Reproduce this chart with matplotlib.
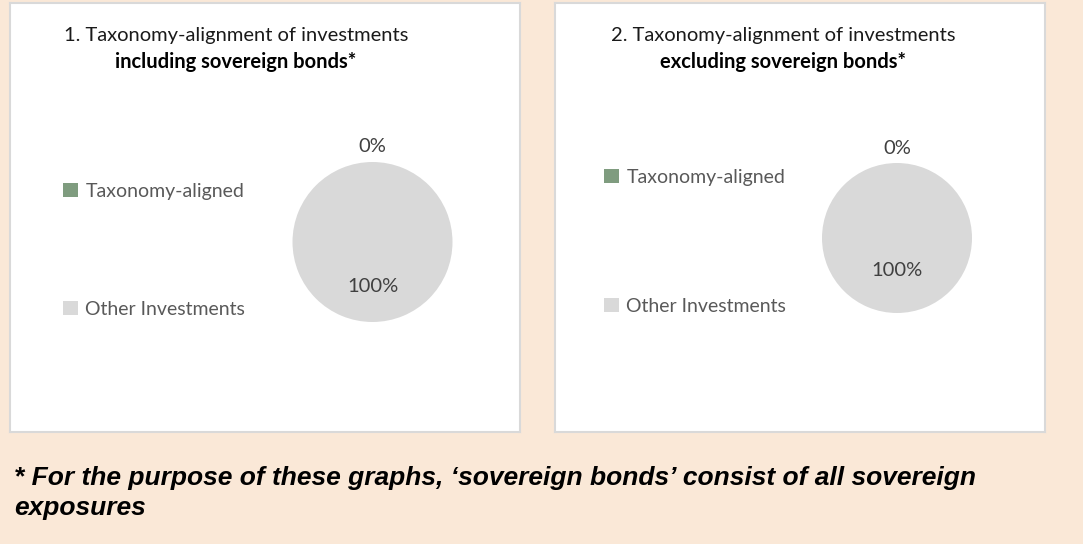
import matplotlib
matplotlib.use('Agg')
import matplotlib.pyplot as plt

# data
categories = ['Taxonomy-aligned', 'Other Investments']
incl_sov = [0, 100]
excl_sov = [0, 100]
titles = ['1. Taxonomy-alignment of investments', '2. Taxonomy-alignment of investments']
subtitles = ['including sovereign bonds*', 'excluding sovereign bonds*']
footnote = ('* For the purpose of these graphs, \u2018sovereign bonds\u2019 consist of all sovereign\n'
            'exposures')

colors = ['#7F9C7F', '#D9D9D9']
W, H = 1083, 544

fig = plt.figure(figsize=(W / 100, H / 100), dpi=100)
fig.patch.set_facecolor('#FAE8D7')


def px(x, y, w, h):
    # pixel box (top-left origin) -> figure fraction
    return [x / W, 1 - (y + h) / H, w / W, h / H]


def panel(x0, x1, y0, y1, title, sub, tx, vals, cx, cy, r, lab_in, leg_x, leg_y, leg_sp):
    # white card with grey edge, as a background axes
    card = fig.add_axes(px(x0, y0, x1 - x0, y1 - y0), zorder=-1)
    card.set_xticks([])
    card.set_yticks([])
    card.set_facecolor('white')
    for s in card.spines.values():
        s.set_color('#D9D9D9')
        s.set_linewidth(1.5)

    fig.text(tx / W, 1 - 35 / H, title, ha='center', va='center', fontsize=14.5,
             family='Lato', color='#1a1a1a')
    fig.text(tx / W, 1 - 62 / H, sub, ha='center', va='center', fontsize=14.5,
             family='Lato', fontweight='bold', color='#000000')

    ax = fig.add_axes(px(cx - r, cy - r, 2 * r, 2 * r))
    wedges, texts = ax.pie(vals, colors=colors, startangle=90, counterclock=False,
                           labels=['%d%%' % v for v in vals], labeldistance=1.2,
                           textprops=dict(fontsize=14.5, family='Lato', color='#404040'))
    ax.set_xlim(-1, 1)
    ax.set_ylim(-1, 1)
    for t in texts:
        t.set_ha('center')
        t.set_va('center')
        t.set_clip_on(False)
    xx, yy = texts[1].get_position()
    texts[1].set_position((xx * lab_in / 1.2, yy * lab_in / 1.2))

    fig.legend(wedges, categories, loc='upper left',
               bbox_to_anchor=(leg_x / W, 1 - leg_y / H), frameon=False,
               handlelength=0.75, handleheight=0.75, handletextpad=0.4,
               labelspacing=leg_sp, borderpad=0, borderaxespad=0,
               prop=dict(family='Lato', size=14), labelcolor='#595959')


panel(10, 520, 3, 432, titles[0], subtitles[0], 236, incl_sov, 372.5, 242, 80, 0.56, 63, 183, 5.2)
panel(555, 1045, 3, 432, titles[1], subtitles[1], 783, excl_sov, 897, 238, 75, 0.43, 604, 169, 5.75)

fig.text(14 / W, 1 - 466 / H, footnote, ha='left', va='top', fontsize=19,
         family='Liberation Sans', fontweight='bold', fontstyle='italic',
         color='#000000', linespacing=1.3)

fig.savefig('out.png', dpi=100, facecolor=fig.get_facecolor())
